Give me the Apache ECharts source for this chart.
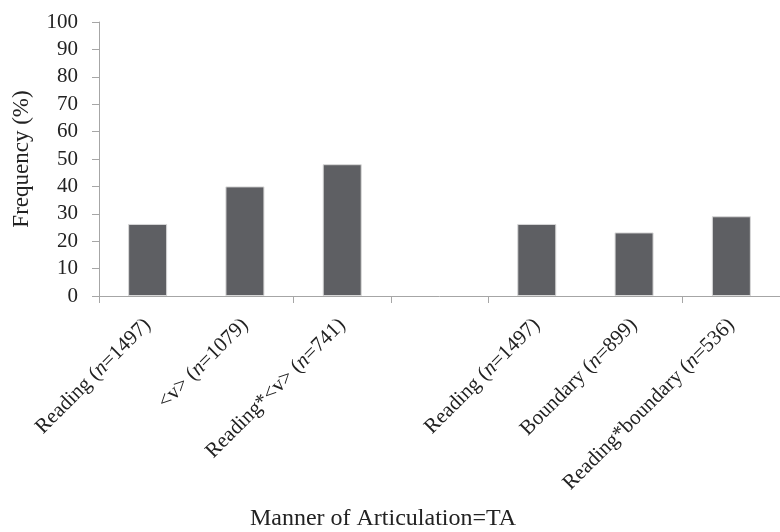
<!DOCTYPE html>
<html>
<head>
<meta charset="utf-8">
<script src="https://cdn.jsdelivr.net/npm/echarts@6/dist/echarts.min.js"></script>
<style>html,body{margin:0;padding:0;background:#fff}#c{width:780px;height:532px}</style>
</head>
<body>
<div id="c"></div>
<script>
var categories = ['Reading (n=1497)', '<v> (n=1079)', 'Reading*<v> (n=741)', '', 'Reading (n=1497)', 'Boundary (n=899)', 'Reading*boundary (n=536)'];
var values = [26.3, 40, 48.1, null, 26.3, 23.2, 29.1];
var yTicks = {min: 0, max: 100, interval: 10};
var yName = 'Frequency (%)';
var xName = 'Manner of Articulation=TA';

var FONT = '"Liberation Serif", "DejaVu Serif", serif';
var chart = echarts.init(document.getElementById('c'), null, {renderer: 'canvas'});
chart.setOption({
  animation: false,
  backgroundColor: '#fff',
  grid: {left: 99, right: -7, top: 22, bottom: 236, containLabel: false},
  xAxis: {
    type: 'category',
    data: categories,
    boundaryGap: true,
    axisLine: {lineStyle: {color: '#a6a6a6', width: 1}},
    axisTick: {show: true, length: 7, lineStyle: {color: '#a6a6a6'},
      interval: function (i) { return i === 0 || i === 2 || i === 3 || i === 4 || i === 6; }},
    axisLabel: {
      interval: 0, rotate: 45, margin: 26, color: '#222', fontFamily: FONT, fontSize: 21,
      formatter: function (v) {
        if (!v) return '';
        var k = v.indexOf('(n=');
        return v.slice(0, k + 1) + '{i|n}' + v.slice(k + 2);
      },
      rich: {i: {fontStyle: 'italic', fontFamily: FONT, fontSize: 21, color: '#222'}}
    }
  },
  yAxis: {
    type: 'value',
    min: yTicks.min, max: yTicks.max, interval: yTicks.interval,
    name: yName, nameLocation: 'middle', nameGap: 66, nameRotate: 90,
    nameTextStyle: {fontFamily: FONT, fontSize: 23, color: '#222'},
    axisLine: {show: true, lineStyle: {color: '#a6a6a6', width: 1}},
    axisTick: {show: true, length: 7, lineStyle: {color: '#a6a6a6'}},
    splitLine: {show: false},
    axisLabel: {margin: 21, color: '#222', fontFamily: FONT, fontSize: 21}
  },
  graphic: [{
    type: 'text', x: 383, y: 519,
    style: {text: xName, fontFamily: FONT, fontSize: 24, fill: '#222', textAlign: 'center', textVerticalAlign: 'middle'}
  }],
  series: [{
    type: 'bar', data: values, barWidth: 39,
    itemStyle: {color: '#5e5f63', borderColor: '#d8d8d8', borderWidth: 1}
  }]
});
</script>
</body>
</html>
